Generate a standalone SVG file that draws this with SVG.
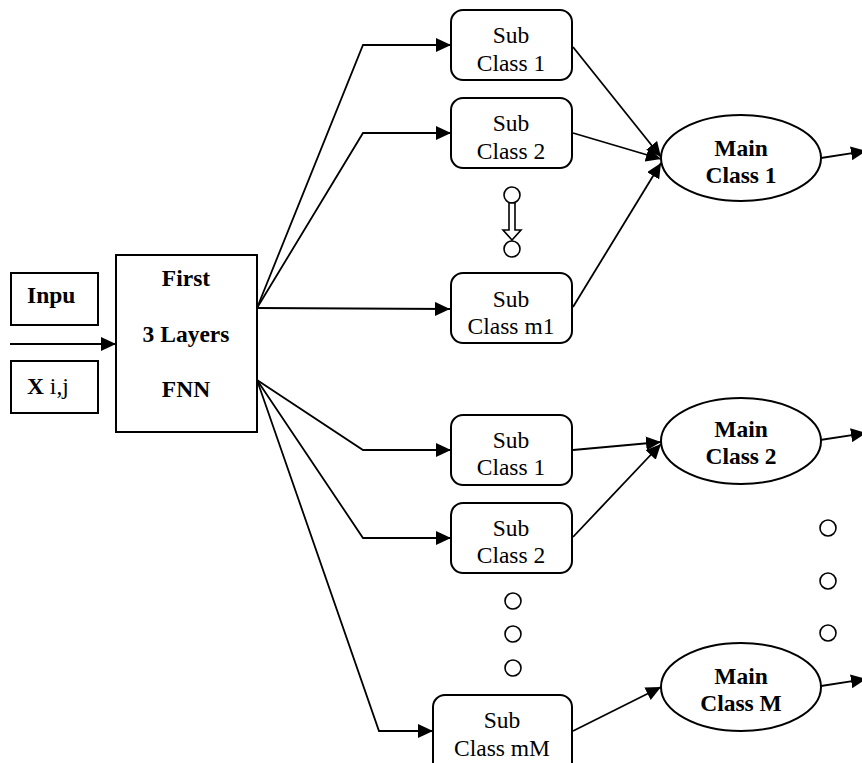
<svg xmlns="http://www.w3.org/2000/svg" width="862" height="763" viewBox="0 0 862 763">
<style>
.box{fill:#fff;stroke:#000;stroke-width:2}
.ln{fill:none;stroke:#000;stroke-width:1.8}
.dot{fill:#fff;stroke:#000;stroke-width:1.6}
.t{font-family:"Liberation Serif","Times New Roman",serif;font-size:23.5px;fill:#000;text-anchor:middle}
.b{font-family:"Liberation Serif","Times New Roman",serif;font-size:23.5px;font-weight:bold;fill:#000;text-anchor:middle}
</style>
<defs>
<marker id="ah" markerUnits="userSpaceOnUse" markerWidth="16" markerHeight="14" refX="15" refY="7" orient="auto">
<path d="M0,0 L15,7 L0,14 Z" fill="#000"/>
</marker>
</defs>
<rect width="862" height="763" fill="#fff"/>
<g id="connectors">
<line class="ln" x1="10" y1="344" x2="116" y2="344" marker-end="url(#ah)"/>
<polyline class="ln" points="257,308 363,45 451,45" marker-end="url(#ah)"/>
<polyline class="ln" points="257,308 363,133 451,133" marker-end="url(#ah)"/>
<line class="ln" x1="257" y1="308" x2="450" y2="309" marker-end="url(#ah)"/>
<polyline class="ln" points="257,380 363,450 451,450" marker-end="url(#ah)"/>
<polyline class="ln" points="257,380 363,538 451,538" marker-end="url(#ah)"/>
<polyline class="ln" points="257,380 379,731 433,731" marker-end="url(#ah)"/>
<line class="ln" x1="573" y1="47" x2="661" y2="157" marker-end="url(#ah)"/>
<line class="ln" x1="573" y1="133" x2="661" y2="159" marker-end="url(#ah)"/>
<line class="ln" x1="573" y1="307" x2="661" y2="163" marker-end="url(#ah)"/>
<line class="ln" x1="573" y1="450" x2="661" y2="442" marker-end="url(#ah)"/>
<line class="ln" x1="573" y1="537" x2="661" y2="444" marker-end="url(#ah)"/>
<line class="ln" x1="573" y1="731" x2="661" y2="687" marker-end="url(#ah)"/>
<line class="ln" x1="821" y1="158" x2="866" y2="151" marker-end="url(#ah)"/>
<line class="ln" x1="820" y1="440" x2="866" y2="433" marker-end="url(#ah)"/>
<line class="ln" x1="821" y1="686" x2="866" y2="679" marker-end="url(#ah)"/>
</g>
<g id="input-label">
<rect class="box" x="11" y="273" width="87" height="52"/>
<text class="b" x="27" y="303" style="text-anchor:start">Inpu</text>
</g>
<g id="input-x">
<rect class="box" x="11" y="361" width="87" height="52"/>
<text x="27" y="394" style="font-family:'Liberation Serif',serif;font-size:23.5px"><tspan font-weight="bold">X</tspan> i,j</text>
</g>
<g id="fnn">
<rect class="box" x="116" y="255" width="141" height="177"/>
<text class="b" x="186" y="286">First</text>
<text class="b" x="186" y="342">3 Layers</text>
<text class="b" x="186" y="397">FNN</text>
</g>
<g id="sub1-a">
<rect class="box" x="451" y="10" width="121" height="70" rx="12"/>
<text class="t" x="511" y="43">Sub</text>
<text class="t" x="511" y="71">Class 1</text>
</g>
<g id="sub2-a">
<rect class="box" x="451" y="98" width="121" height="70" rx="12"/>
<text class="t" x="511" y="131">Sub</text>
<text class="t" x="511" y="159">Class 2</text>
</g>
<g id="ellipsis-a">
<circle class="dot" cx="512" cy="195" r="8"/>
<circle class="dot" cx="512" cy="249" r="8"/>
<polygon class="dot" points="509,203 515,203 515,230 521,230 512,240 503,230 509,230"/>
</g>
<g id="sub-m1">
<rect class="box" x="451" y="273" width="121" height="70" rx="12"/>
<text class="t" x="511" y="307">Sub</text>
<text class="t" x="511" y="334">Class m1</text>
</g>
<g id="sub1-b">
<rect class="box" x="451" y="415" width="121" height="70" rx="12"/>
<text class="t" x="511" y="448">Sub</text>
<text class="t" x="511" y="475">Class 1</text>
</g>
<g id="sub2-b">
<rect class="box" x="451" y="503" width="121" height="70" rx="12"/>
<text class="t" x="511" y="536">Sub</text>
<text class="t" x="511" y="563">Class 2</text>
</g>
<g id="ellipsis-b">
<circle class="dot" cx="513" cy="601" r="8"/>
<circle class="dot" cx="513" cy="634" r="8"/>
<circle class="dot" cx="513" cy="668" r="8"/>
</g>
<g id="sub-mM">
<rect class="box" x="433" y="695" width="139" height="80" rx="12"/>
<text class="t" x="502" y="728">Sub</text>
<text class="t" x="502" y="756">Class mM</text>
</g>
<g id="main1">
<ellipse class="box" cx="741" cy="158" rx="80" ry="43"/>
<text class="b" x="741" y="156">Main</text>
<text class="b" x="741" y="183">Class 1</text>
</g>
<g id="main2">
<ellipse class="box" cx="741" cy="441" rx="80" ry="43"/>
<text class="b" x="741" y="437">Main</text>
<text class="b" x="741" y="464">Class 2</text>
</g>
<g id="ellipsis-c">
<circle class="dot" cx="828" cy="528" r="8"/>
<circle class="dot" cx="828" cy="581" r="8"/>
<circle class="dot" cx="828" cy="633" r="8"/>
</g>
<g id="mainM">
<ellipse class="box" cx="741" cy="687" rx="80" ry="44"/>
<text class="b" x="741" y="684">Main</text>
<text class="b" x="741" y="711">Class M</text>
</g>
</svg>
